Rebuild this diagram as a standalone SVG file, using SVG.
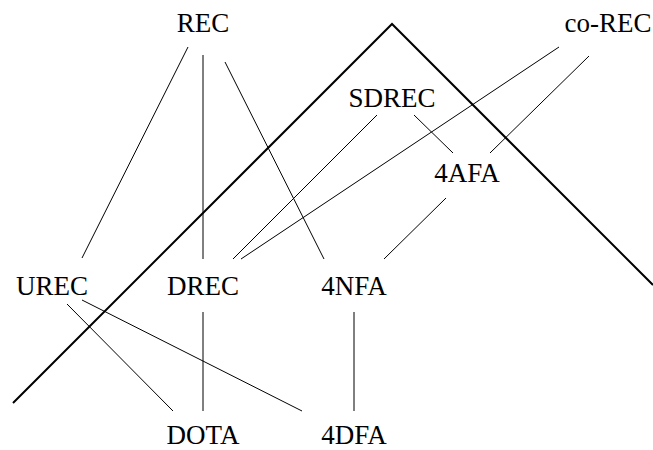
<svg xmlns="http://www.w3.org/2000/svg" width="653" height="450" viewBox="0 0 653 450">
<style>
text{font-family:"Liberation Serif","DejaVu Serif","Times New Roman",serif;font-size:27px;fill:#000;text-anchor:middle}
.e{stroke:#000;stroke-width:1;fill:none}
.b{stroke:#000;stroke-width:2;fill:none}
</style>
<rect width="653" height="450" fill="#fff"/>
<polyline class="b" points="13,403 392,24 653,285"/>
<g id="connectors">
<line class="e" x1="188" y1="47" x2="82" y2="258"/>
<line class="e" x1="203" y1="55" x2="203" y2="259"/>
<line class="e" x1="225" y1="62" x2="324" y2="259"/>
<line class="e" x1="377" y1="115" x2="233" y2="259"/>
<line class="e" x1="559" y1="47" x2="241" y2="259"/>
<line class="e" x1="589" y1="56" x2="490" y2="153"/>
<line class="e" x1="414" y1="115" x2="453" y2="153"/>
<line class="e" x1="446" y1="198" x2="384" y2="259"/>
<line class="e" x1="203" y1="312" x2="203" y2="411"/>
<line class="e" x1="354" y1="312" x2="354" y2="411"/>
<line class="e" x1="67" y1="304" x2="173" y2="411"/>
<line class="e" x1="82" y1="300" x2="302" y2="411"/>
</g>
<g id="REC"><text x="203" y="32">REC</text></g>
<g id="coREC"><text x="608" y="32">co-REC</text></g>
<g id="SDREC"><text x="392" y="107">SDREC</text></g>
<g id="AFA4"><text x="467" y="182">4AFA</text></g>
<g id="UREC"><text x="52" y="295">UREC</text></g>
<g id="DREC"><text x="203" y="295">DREC</text></g>
<g id="NFA4"><text x="354" y="295">4NFA</text></g>
<g id="DOTA"><text x="203" y="444">DOTA</text></g>
<g id="DFA4"><text x="354" y="444">4DFA</text></g>
</svg>
